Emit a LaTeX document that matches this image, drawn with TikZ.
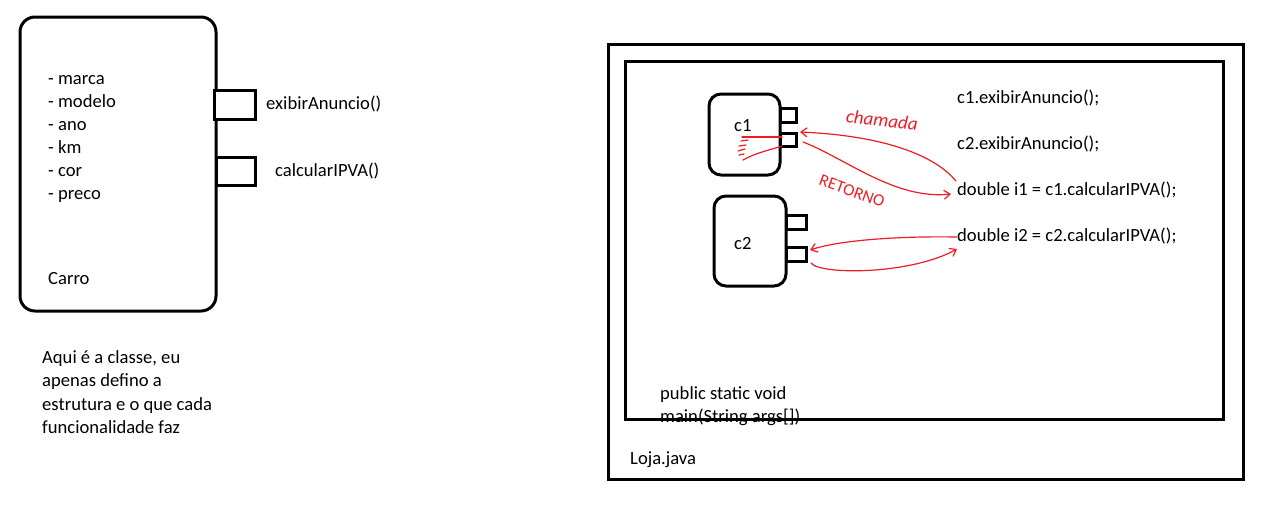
\documentclass[tikz,border=0pt]{standalone}
\usepackage{fontspec}
\setmainfont{Carlito}
\usetikzlibrary{arrows.meta}
\definecolor{pen}{RGB}{237,28,36}
\tikzset{
  thick box/.style={draw=black, line width=3pt},
  port/.style={draw=black, line width=3pt, fill=white},
  lbl/.style={anchor=base west, inner sep=0pt, font=\fontsize{18.6}{23.5}\selectfont, text=black},
  redline/.style={draw=pen, line width=1.2pt, line cap=round},
  redarrow/.style={redline, -{Straight Barb[length=6pt,width=9pt]}},
}
\begin{document}
\begin{tikzpicture}[x=1pt,y=-1pt]
\useasboundingbox (0,0) rectangle (1268,504);
% Carro class
\draw[thick box, rounded corners=15pt] (20,17) rectangle (216,311);
\path[port] (214,90) rectangle (255,119);
\path[port] (216,157) rectangle (255,185);
\node[lbl] (a1) at (48,84) {- marca};
\node[lbl] (a2) at (48,107) {- modelo};
\node[lbl] (a3) at (48,130) {- ano};
\node[lbl] (a4) at (48,153) {- km};
\node[lbl] (a5) at (48,176) {- cor};
\node[lbl] (a6) at (48,199) {- preco};
\node[lbl] (carro) at (48,284) {Carro};
\node[lbl] (m1) at (266,109) {exibirAnuncio()};
\node[lbl] (m2) at (275,176) {calcularIPVA()};
\node[lbl] (d1) at (42,363) {Aqui é a classe, eu};
\node[lbl] (d2) at (42,386) {apenas defino a};
\node[lbl] (d3) at (42,410) {estrutura e o que cada};
\node[lbl] (d4) at (42,433) {funcionalidade faz};
% Loja.java
\draw[thick box] (608,44) rectangle (1243,479);
\draw[thick box] (625,61) rectangle (1223,419);
\node[lbl] (loja) at (630,464) {Loja.java};
\node[lbl] (ps1) at (660,399) {public static void};
\node[lbl] (ps2) at (660,422) {main(String args[])};
% c1
\draw[thick box, rounded corners=12pt] (709,94) rectangle (780,175);
\path[port] (780,108) rectangle (796,122);
\path[port] (780,133) rectangle (796,146);
\node[lbl] (c1) at (734,131) {c1};
\coordinate (c1p) at (800,132);
\coordinate (c1q) at (803,142);
% c2
\draw[thick box, rounded corners=12pt] (714,196) rectangle (786,286);
\path[port] (786,215) rectangle (806,229);
\path[port] (786,247) rectangle (806,261);
\node[lbl] (c2) at (734,249) {c2};
\coordinate (c2p) at (810,250);
\coordinate (c2q) at (811,263);
% code
\node[lbl] (l1) at (957,103) {c1.exibirAnuncio();};
\node[lbl] (l2) at (957,149) {c2.exibirAnuncio();};
\node[lbl] (l3) at (957,195) {double i1 = c1.calcularIPVA();};
\node[lbl] (l4) at (957,241) {double i2 = c2.calcularIPVA();};
\coordinate (l3a) at (956,181);
\coordinate (l3b) at (951,194);
\coordinate (l4a) at (957,237);
\coordinate (l4b) at (957,249);
% red annotations
\draw[redarrow] (l3a) .. controls (930,150) and (870,135) .. (c1p);
\draw[redarrow] (c1q) .. controls (845,158) and (895,200) .. (l3b);
\draw[redarrow] (l4a) .. controls (900,236) and (840,240) .. (c2p);
\draw[redarrow] (c2q) .. controls (820,275) and (910,275) .. (l4b);
\draw[redline] (782,137) -- (742,137);
\draw[redline] (782,146) .. controls (770,150) and (755,153) .. (743,160);
\draw[redline] (741,141) -- (748,140);
\draw[redline] (739,146) -- (746,145);
\draw[redline] (738,151) -- (745,149);
\draw[redline] (739,155) -- (744,154);
\node[font=\fontsize{19}{19}\selectfont\itshape, text=pen, rotate=-6, inner sep=0pt] (cham) at (882,120) {chamada};
\node[font=\fontsize{17}{17}\selectfont, text=pen, rotate=-20, inner sep=0pt] (ret) at (852,191) {RETORNO};
\end{tikzpicture}
\end{document}
